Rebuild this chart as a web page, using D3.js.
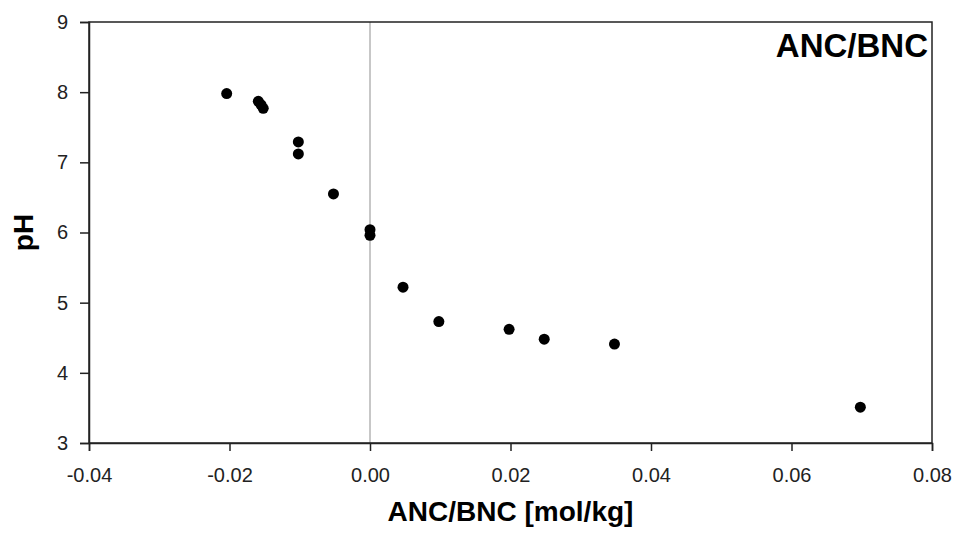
<!DOCTYPE html>
<html>
<head>
<meta charset="utf-8">
<script src="https://cdn.jsdelivr.net/npm/d3@7"></script>
<style>
  html, body { margin: 0; padding: 0; background: #fff; }
  svg { display: block; }
  text { font-family: Arial, "Liberation Sans", sans-serif; }
</style>
</head>
<body>
<svg id="chart" width="955" height="533"></svg>
<script>
// ---- data ----
const ancBnc = [-0.0204, -0.0159, -0.0155, -0.0152, -0.0102, -0.0102, -0.0052, 0.0, 0.0, 0.0047, 0.0098, 0.0198, 0.0248, 0.0348, 0.0698];
const pH     = [7.98, 7.87, 7.82, 7.77, 7.29, 7.12, 6.55, 6.04, 5.96, 5.22, 4.73, 4.62, 4.48, 4.41, 3.51];
const xTicks = [-0.04, -0.02, 0.00, 0.02, 0.04, 0.06, 0.08];
const xTickLabels = ["-0.04", "-0.02", "0.00", "0.02", "0.04", "0.06", "0.08"];
const yTicks = [3, 4, 5, 6, 7, 8, 9];
const yTickLabels = ["3", "4", "5", "6", "7", "8", "9"];
const chartTitle = "ANC/BNC";
const xTitle = "ANC/BNC [mol/kg]";
const yTitle = "pH";

// ---- layout ----
const W = 955, H = 533;
const m = { left: 89, top: 22, right: 23, bottom: 90 };
const iw = W - m.left - m.right, ih = H - m.top - m.bottom;
const axisColor = "#222";

const svg = d3.select("#chart");
const g = svg.append("g").attr("transform", `translate(${m.left},${m.top})`);

const x = d3.scaleLinear().domain([-0.04, 0.08]).range([0, iw]);
const y = d3.scaleLinear().domain([3, 9]).range([ih, 0]);

// zero line
g.append("line")
  .attr("x1", x(0)).attr("x2", x(0))
  .attr("y1", 0).attr("y2", ih)
  .attr("stroke", "#b4b4b4").attr("stroke-width", 1.5);

// frame
g.append("rect")
  .attr("x", 0).attr("y", 0).attr("width", iw).attr("height", ih)
  .attr("fill", "none").attr("stroke", axisColor).attr("stroke-width", 1.5);

// x axis
const xa = g.append("g").attr("transform", `translate(0,${ih})`)
  .call(d3.axisBottom(x).tickValues(xTicks)
    .tickFormat((d, i) => xTickLabels[i]).tickSize(8).tickPadding(17));
// y axis
const ya = g.append("g")
  .call(d3.axisLeft(y).tickValues(yTicks)
    .tickFormat((d, i) => yTickLabels[i]).tickSize(9).tickPadding(12));

[xa, ya].forEach(a => {
  a.select(".domain").attr("stroke", axisColor).attr("stroke-width", 1.5);
  a.selectAll(".tick line").attr("stroke", axisColor).attr("stroke-width", 1.5);
  a.selectAll(".tick text")
    .attr("fill", "#222")
    .style("font-family", "Arial, 'Liberation Sans', sans-serif")
    .style("font-size", "20px");
});

// points
g.append("g").selectAll("circle")
  .data(ancBnc.map((v, i) => ({ x: v, y: pH[i] })))
  .join("circle")
  .attr("cx", d => x(d.x))
  .attr("cy", d => y(d.y))
  .attr("r", 5.5)
  .attr("fill", "#000");

// chart title (top-right)
svg.append("text")
  .attr("x", 928).attr("y", 57)
  .attr("text-anchor", "end")
  .attr("font-weight", "bold")
  .attr("font-size", 33)
  .attr("fill", "#000")
  .text(chartTitle);

// x title
svg.append("text")
  .attr("x", m.left + iw / 2).attr("y", 521)
  .attr("text-anchor", "middle")
  .attr("font-weight", "bold")
  .attr("font-size", 28)
  .attr("fill", "#000")
  .text(xTitle);

// y title
svg.append("text")
  .attr("transform", `translate(33,${m.top + ih / 2}) rotate(-90)`)
  .attr("text-anchor", "middle")
  .attr("font-weight", "bold")
  .attr("font-size", 28)
  .attr("fill", "#000")
  .text(yTitle);
</script>
</body>
</html>
